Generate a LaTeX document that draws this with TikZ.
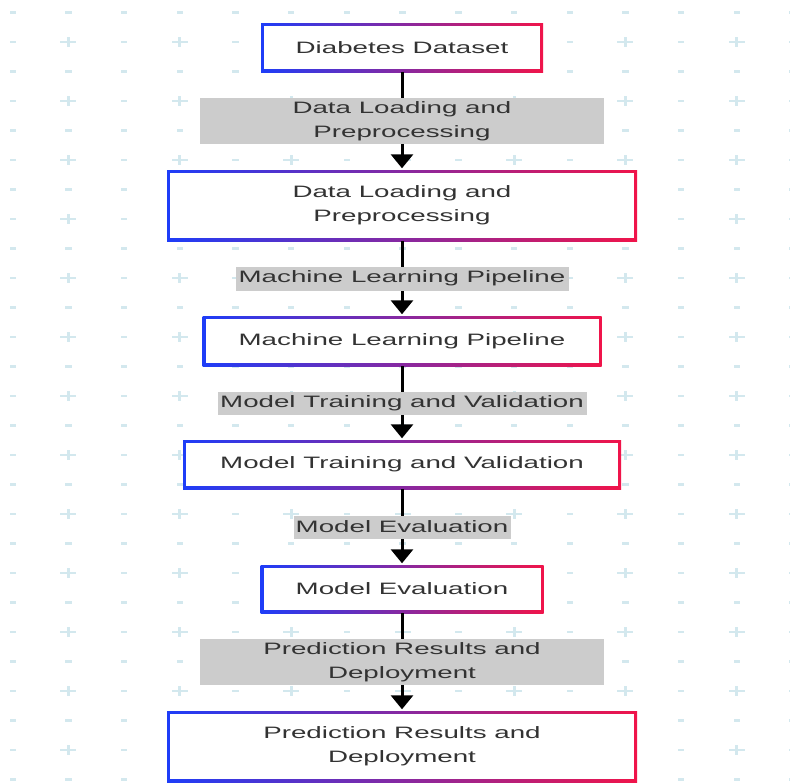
\documentclass[tikz,border=0pt]{standalone}
\usepackage{fontspec}
\newfontfamily\labfont[FakeStretch=1.68]{Liberation Sans}
\usetikzlibrary{arrows.meta}
\definecolor{gradblue}{HTML}{1E3DF8}
\definecolor{gradred}{HTML}{F0144A}
\definecolor{txtgray}{HTML}{333333}
\definecolor{lblgray}{HTML}{CCCCCC}
\definecolor{gridblue}{HTML}{D3E8EE}
\tikzset{
  txtfont/.style={font=\labfont\fontsize{16.5}{24}\selectfont, text=txtgray, align=center},
  flowbox/.style={rectangle, inner sep=0pt, txtfont, left color=gradblue, right color=gradred,
    path picture={\fill[white] ([shift={(3pt,-3pt)}]path picture bounding box.north west) rectangle ([shift={(-3pt,3pt)}]path picture bounding box.south east);}},
  elabel/.style={rectangle, inner sep=0pt, fill=lblgray, txtfont},
  conn/.style={line width=3pt, draw=black, shorten >=1.5pt, -{Triangle[width=22pt,length=14pt]}},
}
\begin{document}
\begin{tikzpicture}[x=1pt,y=-1pt]
\useasboundingbox (0,0) rectangle (790,782);
\fill[white] (0,0) rectangle (790,782);
% background grid
\foreach \i in {0,...,14}{
  \foreach \j in {0,...,26}{
    \pgfmathsetmacro{\gx}{12.7+55.7*\i}
    \pgfmathsetmacro{\gy}{12.5+29.5*\j}
    \pgfmathparse{int(mod(\i,2)*mod(\j,2))}
    \ifnum\pgfmathresult=1
      \fill[gridblue] ({\gx-8},{\gy-1.3}) rectangle ({\gx+8},{\gy+1.3});
      \fill[gridblue] ({\gx-1.5},{\gy-5}) rectangle ({\gx+1.5},{\gy+5});
    \else
      \fill[gridblue] ({\gx-3.2},{\gy-1.3}) rectangle ({\gx+3.2},{\gy+1.3});
    \fi
  }
}
% boxes
\node[flowbox, minimum width=282pt, minimum height=49pt] (b1) at (402,47.5) {Diabetes Dataset};
\node[flowbox, minimum width=470pt, minimum height=71pt] (b2) at (402,205.5) {Data Loading and\\Preprocessing};
\node[flowbox, minimum width=399pt, minimum height=50pt] (b3) at (402,341) {Machine Learning Pipeline};
\node[flowbox, minimum width=438pt, minimum height=49pt] (b4) at (402,464.5) {Model Training and Validation};
\node[flowbox, minimum width=283pt, minimum height=48pt] (b5) at (402,589) {Model Evaluation};
\node[flowbox, minimum width=470pt, minimum height=71pt] (b6) at (402,746.5) {Prediction Results and\\Deployment};
% connectors
\draw[conn] (b1) -- node[elabel, minimum width=404pt, minimum height=46pt] {Data Loading and\\Preprocessing} (b2);
\draw[conn] (b2) -- node[elabel, minimum width=333pt, minimum height=24pt] {Machine Learning Pipeline} (b3);
\draw[conn] (b3) -- node[elabel, minimum width=369pt, minimum height=23pt] {Model Training and Validation} (b4);
\draw[conn] (b4) -- node[elabel, minimum width=217pt, minimum height=23pt] {Model Evaluation} (b5);
\draw[conn] (b5) -- node[elabel, minimum width=404pt, minimum height=46pt] {Prediction Results and\\Deployment} (b6);
\end{tikzpicture}
\end{document}
